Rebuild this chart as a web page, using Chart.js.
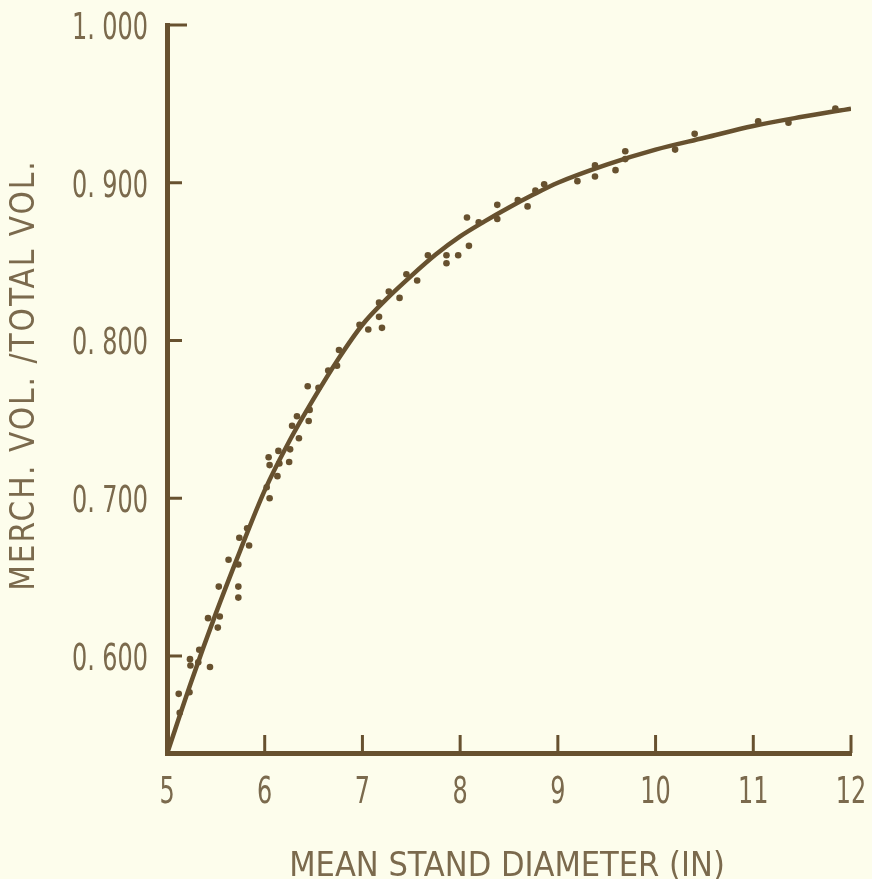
<!DOCTYPE html>
<html>
<head>
<meta charset="utf-8">
<script src="https://cdn.jsdelivr.net/npm/chart.js@4.4.1/dist/chart.umd.min.js"></script>
<style>
  html, body { margin: 0; padding: 0; background: #fdfdec; }
  #wrap { width: 872px; height: 879px; }
</style>
</head>
<body>
<div id="wrap"><canvas id="volChart" width="872" height="879"></canvas></div>
<script>
// tick values
const xTicks = [5, 6, 7, 8, 9, 10, 11, 12]
const yTicks = [0.6, 0.7, 0.8, 0.9, 1.0]

// fitted curve
const curveX = [5.0, 5.25, 5.5, 5.75, 6.0, 6.25, 6.5, 6.75, 7.0, 7.25, 7.5, 7.75, 8.0, 8.25, 8.5, 8.75, 9.0, 9.5, 10.0, 10.5, 11.0, 11.5, 12.0]
const curveY = [0.538, 0.584, 0.627, 0.667, 0.705, 0.736, 0.763, 0.788, 0.810, 0.8265, 0.841, 0.8545, 0.866, 0.8755, 0.8843, 0.8925, 0.900, 0.9115, 0.921, 0.9285, 0.936, 0.9418, 0.947]

// observed stands
const dotX = [5.12, 5.13, 5.23, 5.235, 5.24, 5.32, 5.33, 5.44, 5.42, 5.52, 5.54, 5.53, 5.63, 5.73, 5.73, 5.73, 5.74, 5.82, 5.84,
  6.02, 6.05, 6.04, 6.05, 6.13, 6.15, 6.14, 6.25, 6.26, 6.28, 6.33, 6.35, 6.44, 6.46, 6.45, 6.55, 6.65, 6.74, 6.76, 6.97,
  7.06, 7.20, 7.17, 7.17, 7.27, 7.38, 7.45, 7.56, 7.67, 7.86, 7.86, 7.98, 8.09, 8.07, 8.19, 8.38, 8.38,
  8.59, 8.69, 8.77, 8.86, 9.20, 9.38, 9.38, 9.59, 9.69, 9.69, 10.2, 10.40, 11.05, 11.36, 11.84]
const dotY = [0.576, 0.564, 0.577, 0.598, 0.594, 0.596, 0.604, 0.593, 0.624, 0.618, 0.625, 0.644, 0.661, 0.658, 0.644, 0.637, 0.675, 0.681, 0.670,
  0.707, 0.700, 0.726, 0.721, 0.714, 0.722, 0.730, 0.723, 0.731, 0.746, 0.752, 0.738, 0.771, 0.756, 0.749, 0.770, 0.781, 0.784, 0.794, 0.810,
  0.807, 0.808, 0.815, 0.824, 0.831, 0.827, 0.842, 0.838, 0.854, 0.854, 0.849, 0.854, 0.860, 0.878, 0.875, 0.886, 0.877,
  0.889, 0.885, 0.895, 0.899, 0.901, 0.904, 0.911, 0.908, 0.920, 0.915, 0.921, 0.931, 0.939, 0.938, 0.947]

const xTitle = 'MEAN STAND DIAMETER (IN)'
const yTitle = 'MERCH. VOL. /TOTAL VOL.'

const INK = '#67512f'
const TEXT = '#7b6a4d'
const FONT = "'DejaVu Sans Condensed', 'Liberation Sans', sans-serif"
const SQUEEZE = 0.7  // the original digits are a narrow face

function yLabel(v) {
  return v.toFixed(3).replace('.', '. ')
}

// inward tick marks, narrow tick labels and both axis titles
const axisDecor = {
  id: 'axisDecor',
  afterDraw(chart) {
    const ctx = chart.ctx
    const xs = chart.scales.x
    const ys = chart.scales.y
    const area = chart.chartArea
    ctx.save()
    ctx.strokeStyle = INK
    ctx.lineWidth = 3
    xTicks.forEach(v => {
      const px = xs.getPixelForValue(v)
      ctx.beginPath()
      ctx.moveTo(px, area.bottom)
      ctx.lineTo(px, area.bottom - 18)
      ctx.stroke()
    })
    yTicks.forEach(v => {
      const py = ys.getPixelForValue(v)
      ctx.beginPath()
      ctx.moveTo(area.left, py)
      ctx.lineTo(area.left + (v === 1.0 ? 20 : 15), py)
      ctx.stroke()
    })

    ctx.fillStyle = TEXT
    ctx.font = '38px ' + FONT
    ctx.textBaseline = 'alphabetic'
    ctx.textAlign = 'center'
    xTicks.forEach(v => {
      const px = xs.getPixelForValue(v)
      ctx.save()
      ctx.translate(px, 803)
      ctx.scale(SQUEEZE, 1)
      ctx.fillText(String(v), 0, 0)
      ctx.restore()
    })
    ctx.textAlign = 'right'
    yTicks.forEach(v => {
      const py = ys.getPixelForValue(v)
      ctx.save()
      ctx.translate(area.left - 19, py + 14)
      ctx.scale(SQUEEZE, 1)
      ctx.fillText(yLabel(v), 0, 0)
      ctx.restore()
    })

    ctx.textAlign = 'center'
    ctx.font = '34px ' + FONT
    ctx.fillText(xTitle, 507, 876)

    ctx.translate(34, 375)
    ctx.rotate(-Math.PI / 2)
    ctx.font = '33px ' + FONT
    ctx.letterSpacing = '2px'
    ctx.fillText(yTitle, 0, 0)
    ctx.restore()
  }
}

function activate_chart() {
  const ctx = document.getElementById('volChart').getContext('2d')
  const chart = new Chart(ctx, {
    data: {
      datasets: [
        {
          type: 'line',
          data: curveX.map((x, i) => ({ x: x, y: curveY[i] })),
          borderColor: INK,
          borderWidth: 4.5,
          pointRadius: 0,
          cubicInterpolationMode: 'monotone',
          fill: false
        },
        {
          type: 'scatter',
          data: dotX.map((x, i) => ({ x: x, y: dotY[i] })),
          backgroundColor: INK,
          borderWidth: 0,
          pointRadius: 3.3
        }
      ]
    },
    options: {
      responsive: false,
      animation: false,
      layout: { padding: { top: 25, right: 21, left: 0, bottom: 0 } },
      scales: {
        x: {
          type: 'linear',
          min: 5,
          max: 12,
          afterBuildTicks: s => { s.ticks = xTicks.map(v => ({ value: v })) },
          afterFit: s => { s.height = 126 },
          grid: { display: false, drawTicks: false },
          border: { color: INK, width: 5 },
          ticks: { display: false }
        },
        y: {
          type: 'linear',
          min: 0.5385,
          max: 1.0,
          afterBuildTicks: s => { s.ticks = yTicks.map(v => ({ value: v })) },
          afterFit: s => { s.width = 167 },
          grid: { display: false, drawTicks: false },
          border: { color: INK, width: 5 },
          ticks: { display: false }
        }
      },
      plugins: {
        legend: { display: false },
        tooltip: { enabled: false }
      }
    },
    plugins: [axisDecor]
  })
}

activate_chart()
</script>
</body>
</html>
